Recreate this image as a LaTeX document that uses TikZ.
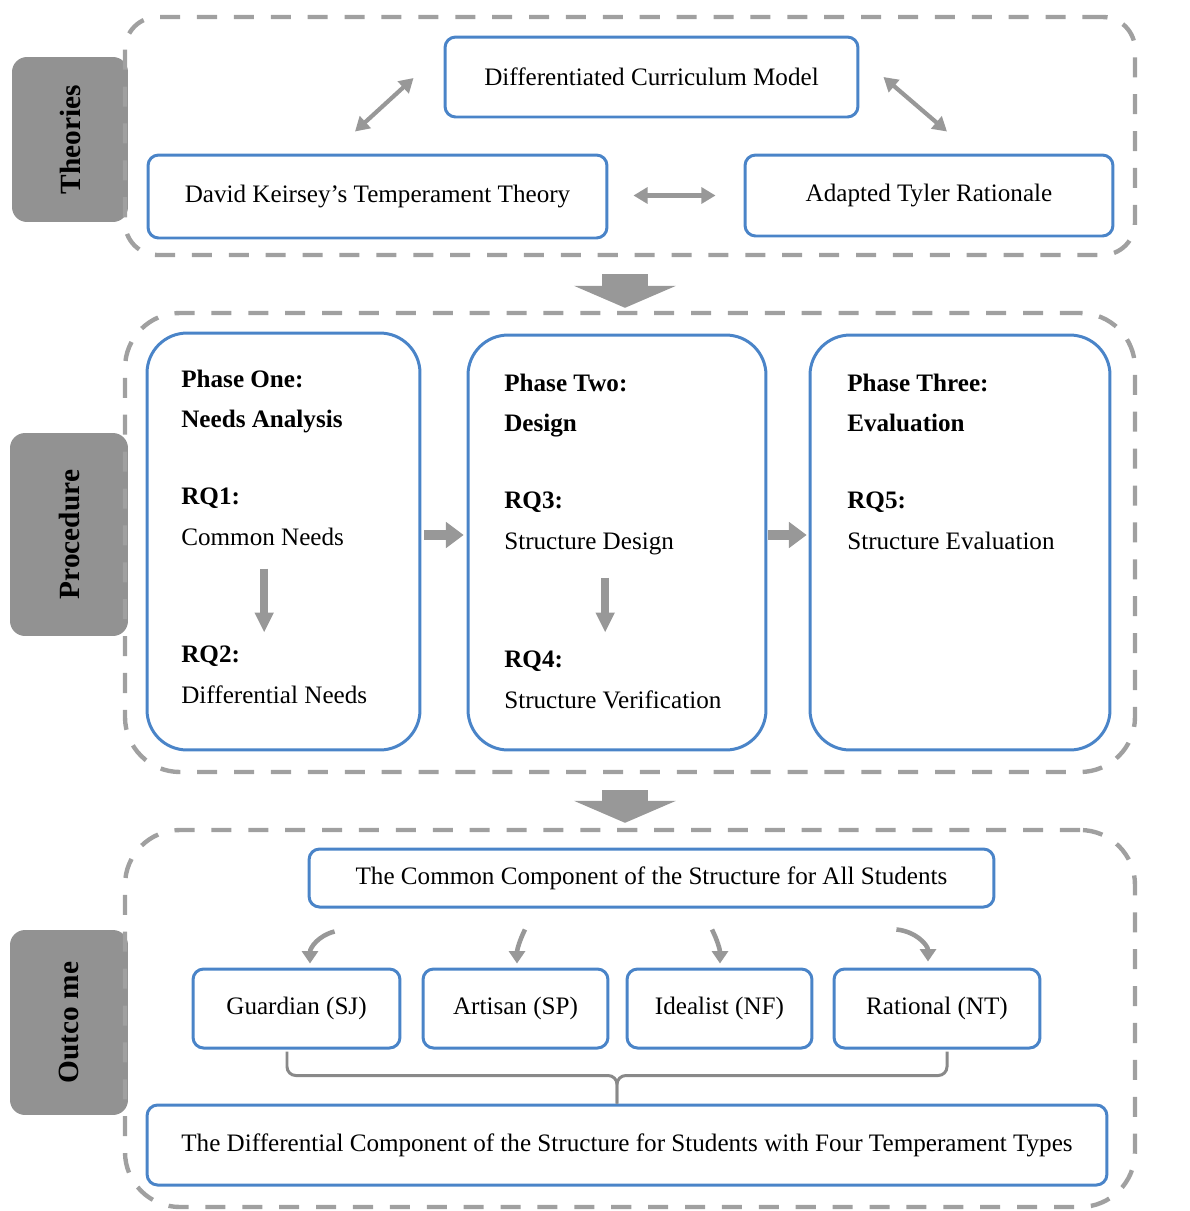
\documentclass[tikz,border=0pt]{standalone}
\usepackage{fontspec}
\setmainfont{Liberation Serif}
\usepackage{xcolor}
\usepackage{tikz}
\usetikzlibrary{arrows.meta, positioning, fit, calc}

\definecolor{boxblue}{RGB}{74,132,200}
\definecolor{sidegray}{RGB}{146,146,146}
\definecolor{dashgray}{RGB}{160,160,160}
\definecolor{arrgray}{RGB}{152,152,152}

\begin{document}
\begin{tikzpicture}[x=0.02cm, y=-0.02cm,
  txt/.style={font=\fontsize{14.3}{22.8}\selectfont},
  bluebox/.style={draw=boxblue, line width=1.7pt, rounded corners=6pt, txt},
  phasebox/.style={draw=boxblue, line width=1.7pt, rounded corners=0.8cm},
  phtext/.style={txt, anchor=north west, inner sep=0pt, align=left},
  sidelab/.style={fill=sidegray, rounded corners=0.3cm, rotate=90,
    font=\fontsize{16.7}{20}\selectfont\bfseries},
  section/.style={draw=dashgray, line width=2.5pt, dash pattern=on 11.4pt off 9.6pt,
    inner sep=0pt},
  dbl/.style={draw=arrgray, line width=2.4pt,
    {Triangle[width=9pt,length=8pt]}-{Triangle[width=9pt,length=8pt]}},
  bigarr/.style={draw=arrgray, line width=0.92cm,
    -{Triangle[width=2.04cm,length=0.44cm,line width=0pt]}},
  pharr/.style={draw=arrgray, line width=5.7pt,
    -{Triangle[width=15pt,length=10pt,line width=0pt]}},
  downarr/.style={draw=arrgray, line width=4.8pt,
    -{Triangle[width=11pt,length=11pt,line width=0pt]}},
  curv/.style={draw=arrgray, line width=2.6pt, -{Triangle[width=9pt,length=7pt]}},
  brace/.style={draw=arrgray!90!black, line width=1.7pt, rounded corners=5pt}]

  \useasboundingbox (0,0) rectangle (1190,1211);

  % Side labels
  \node[sidelab, minimum width=3.3cm, minimum height=2.32cm] (thlab) at (70,139.5) {Theories};
  \node[sidelab, minimum width=4.06cm, minimum height=2.36cm] (prlab) at (69,534.5) {Procedure};
  \node[sidelab, minimum width=3.7cm, minimum height=2.36cm] (oulab) at (69,1022.5) {Outco me};

  % Dashed sections
  \node[section, rounded corners=0.65cm, fit={(125,17) (1135,255)}] (thsec) {};
  \node[section, rounded corners=1.1cm, fit={(125,313) (1135,772)}] (prsec) {};
  \node[section, rounded corners=1.1cm, fit={(125,830) (1135,1207)}] (ousec) {};

  % Theories
  \node[bluebox, minimum width=8.26cm, minimum height=1.6cm] (dcm) at (651.5,77) {Differentiated Curriculum Model};
  \node[bluebox, minimum width=9.18cm, minimum height=1.66cm] (dk) at (377.5,196.5) {David Keirsey’s Temperament Theory};
  \node[bluebox, minimum width=7.36cm, minimum height=1.62cm] (atr) at (929,195.5) {Adapted Tyler Rationale};
  \draw[dbl] ($(dk.north)+(-22.5,-22)$) -- ($(dcm.west)+(-30,1)$);
  \draw[dbl] ($(dcm.east)+(24,0)$) -- ($(atr.north)+(18,-22)$);
  \draw[dbl] ($(dk.east)+(25,-1)$) -- ($(atr.west)+(-28,0)$);

  \draw[bigarr] ($(thsec.south)+(-5,17)$) -- ($(prsec.north)+(-5,-3)$);

  % Procedure
  \node[phasebox, minimum width=5.46cm, minimum height=8.34cm] (p1) at (283.5,541.5) {};
  \node[phasebox, minimum width=5.96cm, minimum height=8.3cm] (p2) at (617,542.5) {};
  \node[phasebox, minimum width=6cm, minimum height=8.3cm] (p3) at (960,542.5) {};

  \node[phtext, font=\fontsize{14.3}{22.8}\selectfont\bfseries] (p1h) at (181,370) {Phase One:\\Needs Analysis};
  \node[phtext] (rq1) at (181,488) {\textbf{RQ1:}\\Common Needs};
  \node[phtext] (rq2) at (181,646) {\textbf{RQ2:}\\Differential Needs};

  \node[phtext, font=\fontsize{14.3}{22.8}\selectfont\bfseries] (p2h) at (504,374) {Phase Two:\\Design};
  \node[phtext] (rq3) at (504,492) {\textbf{RQ3:}\\Structure Design};
  \node[phtext] (rq4) at (504,651) {\textbf{RQ4:}\\Structure Verification};

  \node[phtext, font=\fontsize{14.3}{22.8}\selectfont\bfseries] (p3h) at (847,374) {Phase Three:\\Evaluation};
  \node[phtext] (rq5) at (847,492) {\textbf{RQ5:}\\Structure Evaluation};

  \draw[downarr] ($(rq1.south)+(1.5,23)$) -- ($(rq1.south |- rq2.north)+(1.5,-14)$);
  \draw[downarr] ($(rq3.south)+(16,23)$) -- ($(rq3.south |- rq4.north)+(16,-19)$);
  \draw[pharr] ($(p1.east)+(3,-6.5)$) -- ($(p2.west)+(-3,-7.5)$);
  \draw[pharr] ($(p2.east)+(1,-7.5)$) -- ($(p3.west)+(-2,-7.5)$);

  \draw[bigarr] ($(prsec.south)+(-5,16)$) -- ($(ousec.north)+(-5,-5)$);

  % Outcome
  \node[bluebox, minimum width=13.7cm, minimum height=1.16cm] (common) at (651.5,878) {The Common Component of the Structure for All Students};
  \node[bluebox, minimum width=4.14cm, minimum height=1.58cm] (gua) at (296.5,1008.5) {Guardian (SJ)};
  \node[bluebox, minimum width=3.7cm, minimum height=1.58cm] (art) at (515.5,1008.5) {Artisan (SP)};
  \node[bluebox, minimum width=3.7cm, minimum height=1.58cm] (ide) at (719.5,1008.5) {Idealist (NF)};
  \node[bluebox, minimum width=4.12cm, minimum height=1.58cm] (rat) at (937,1008.5) {Rational (NT)};
  \node[bluebox, minimum width=19.2cm, minimum height=1.6cm] (diff) at (627,1145) {The Differential Component of the Structure for Students with Four Temperament Types};

  \draw[curv] ($(common.south west)+(27,23)$) .. controls +(-16,4) and +(0,-16) .. ($(gua.north)+(13.5,-4)$);
  \draw[curv] ($(common.south)+(-126.5,21)$) .. controls +(-5,10) and +(0,-14) .. ($(art.north)+(1.5,-4)$);
  \draw[curv] ($(common.south)+(60.5,21)$) .. controls +(5,10) and +(0,-14) .. ($(ide.north)+(0.5,-4)$);
  \draw[curv] ($(common.south east)+(-99,21)$) .. controls +(20,2) and +(0,-16) .. ($(rat.north)+(-9,-6)$);

  % Brace
  \coordinate (bl) at ($(gua.south)+(-9.5,2)$);
  \coordinate (br) at ($(rat.south)+(10,2)$);
  \coordinate (brtip) at ($(diff.north)+(-10,0)$);
  \coordinate (brmid) at ($(brtip)+(0,-28)$);
  \draw[brace] (bl) -- (bl |- brmid) -- (brmid) -- (brtip);
  \draw[brace] (br) -- (br |- brmid) -- (brmid) -- (brtip);
\end{tikzpicture}
\end{document}
